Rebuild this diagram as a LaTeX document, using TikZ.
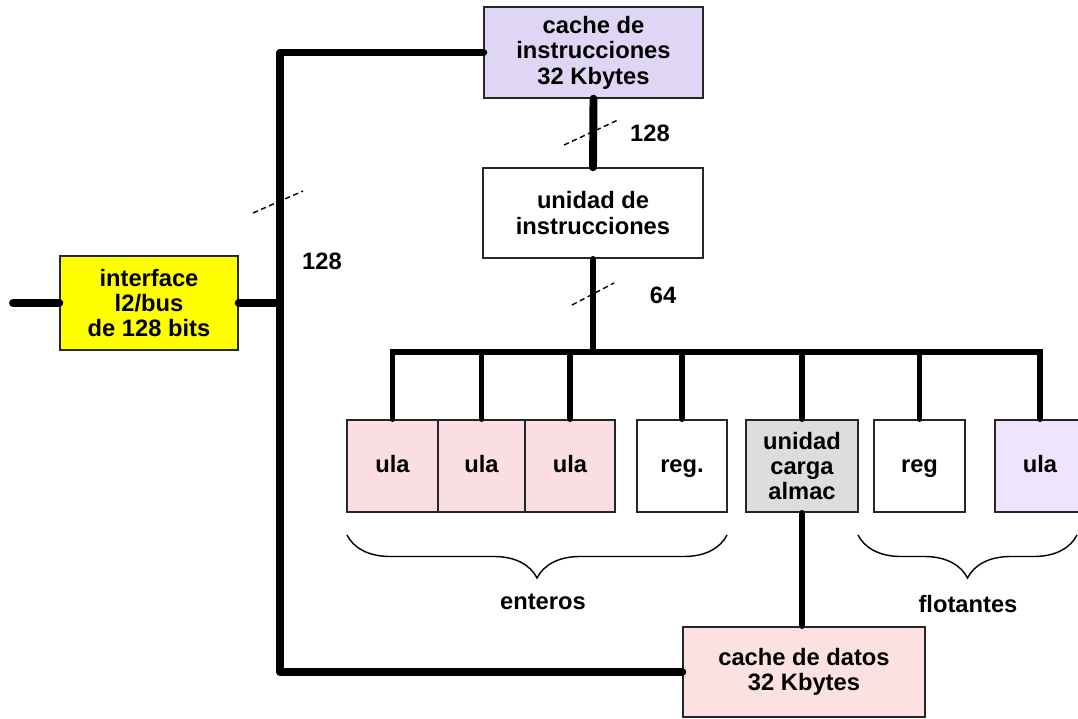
\documentclass[tikz,border=0pt]{standalone}
\usepackage{fontspec}
\setmainfont{Liberation Sans}
\usetikzlibrary{decorations.pathreplacing}
\definecolor{lila}{RGB}{222,214,244}
\definecolor{lilac}{RGB}{238,228,252}
\definecolor{rosa}{RGB}{250,222,228}
\definecolor{rosad}{RGB}{251,226,224}
\definecolor{gris}{RGB}{221,221,221}
\definecolor{amar}{RGB}{255,255,0}

\begin{document}
\begin{tikzpicture}[x=0.02cm,y=-0.02cm,
  box/.style={draw=black!85,line width=0.8pt,align=center,inner sep=0pt,
    minimum height=1.84cm,font=\fontsize{13.5}{14.5}\selectfont\bfseries},
  uno/.style={text height=0.95em,text depth=0.19em},
  bus/.style={line width=4.5pt,line cap=round,line join=round},
  drop/.style={line width=3pt,line cap=round},
  cut/.style={densely dashed,line width=0.8pt},
  lbl/.style={font=\fontsize{13.5}{14.5}\selectfont\bfseries},
  llave/.style={decorate,decoration={brace,mirror,amplitude=0.86cm},line width=0.8pt}]
\useasboundingbox (0,0) rectangle (1078,719);
\node[box,fill=lila,minimum width=4.38cm,minimum height=1.82cm] (cinst) at (593.5,52.5) {cache de\\instrucciones\\32 Kbytes};
\node[box,fill=white,minimum width=4.4cm,minimum height=1.8cm] (uinst) at (593,213) {unidad de\\instrucciones};
\node[box,fill=amar,minimum width=3.56cm,minimum height=1.88cm] (iface) at (149,303) {interface\\l2/bus\\de 128 bits};
\node[box,uno,fill=rosa,minimum width=1.82cm] (ula1) at (392.5,466) {ula};
\node[box,uno,fill=rosa,minimum width=1.74cm] (ula2) at (481.5,466) {ula};
\node[box,uno,fill=rosa,minimum width=1.8cm] (ula3) at (570,466) {ula};
\node[box,uno,fill=white,minimum width=1.8cm] (regE) at (682,466) {reg.};
\node[box,fill=gris,minimum width=2.24cm] (ucarga) at (802,466) {unidad\\carga\\almac};
\node[box,uno,fill=white,minimum width=1.82cm] (regF) at (919.5,466) {reg};
\node[box,uno,fill=lilac,minimum width=1.8cm] (ulaF) at (1040,466) {ula};
\node[box,fill=rosad,minimum width=4.84cm,minimum height=1.8cm] (cdat) at (804,672) {cache de datos\\32 Kbytes};
\coordinate (vb) at (280,303);
\coordinate (ext) at (13,303);
\coordinate (hb) at (0,352);
\draw[bus] (cinst.west) -| (vb) |- (cdat.west);
\draw[bus] (iface.east) -- (vb);
\draw[bus] (ext) -- (iface.west);
\draw[bus] (cinst.south) -- (uinst.north);
\draw[drop] (uinst.south) -- (uinst.south |- hb);
\draw[drop] (ula1.north) |- (ulaF.north |- hb) -- (ulaF.north);
\foreach \n in {ula2,ula3,regE,ucarga,regF}
  \draw[drop] (\n.north) -- (\n.north |- hb);
\draw[drop] (ucarga.south) -- (ucarga.south |- cdat.north);
\draw[cut] (253,213) -- (303,191);
\draw[cut] (564,145) -- (618,120);
\draw[cut] (572,305) -- (614,283);
\node[lbl] (n128a) at (322,261) {128};
\node[lbl] (n128b) at (650,133) {128};
\node[lbl] (n64) at (663,295) {64};
\draw[llave] (347,535) -- (727,535);
\draw[llave] (858,535) -- (1077,535);
\node[lbl] (ent) at (543,602) {enteros};
\node[lbl] (flo) at (968,604) {flotantes};
\end{tikzpicture}
\end{document}
